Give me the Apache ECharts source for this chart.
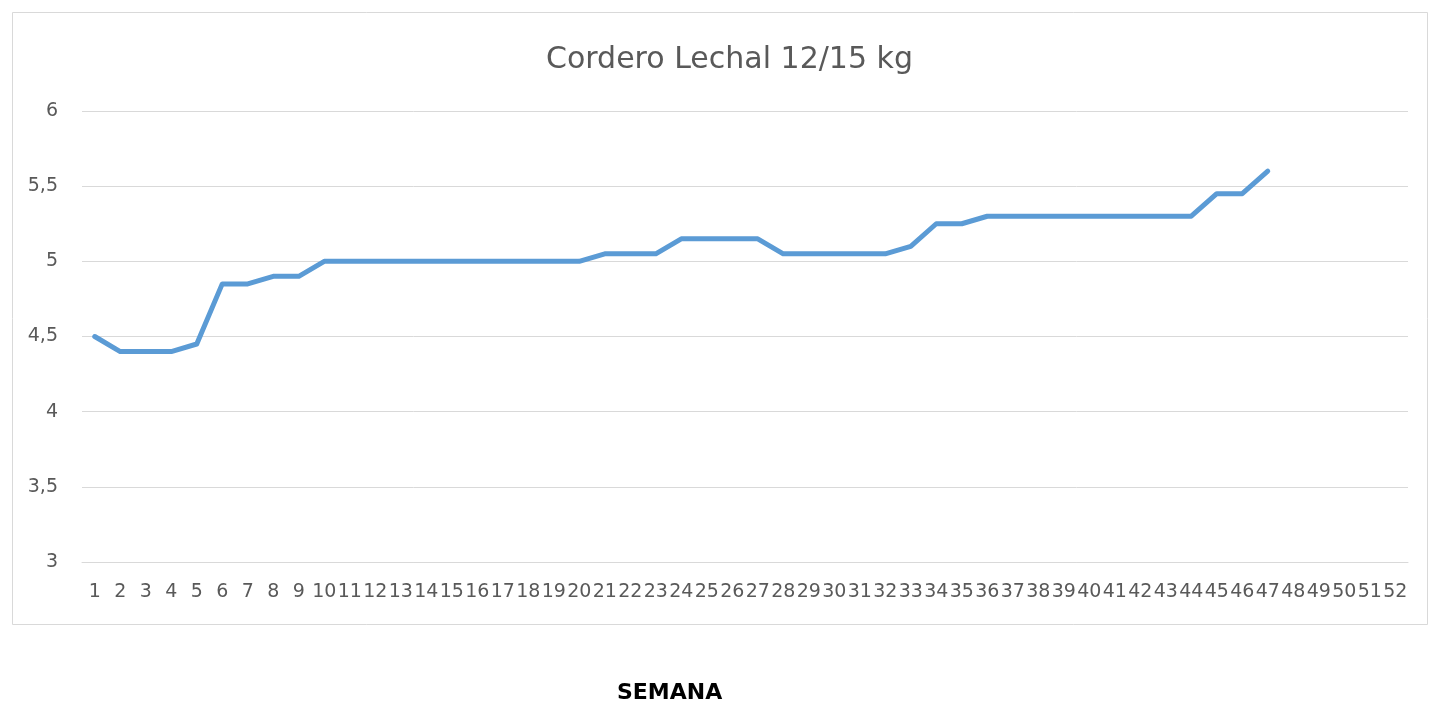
<!DOCTYPE html>
<html>
<head>
<meta charset="utf-8">
<script src="https://cdn.jsdelivr.net/npm/echarts@6/dist/echarts.min.js"></script>
<style>
html,body{margin:0;padding:0;background:#fff;}
#c{width:1436px;height:703px;}
</style>
</head>
<body>
<div id="c"></div>
<script>
const chartTitle = 'Cordero Lechal 12/15 kg';
const xAxisTitle = 'SEMANA';
const weeks = [];
for (let i = 1; i <= 52; i++) weeks.push(String(i));
const prices = [4.5, 4.4, 4.4, 4.4, 4.45, 4.85, 4.85, 4.9, 4.9, 5.0,
  5.0, 5.0, 5.0, 5.0, 5.0, 5.0, 5.0, 5.0, 5.0, 5.0,
  5.05, 5.05, 5.05, 5.15, 5.15, 5.15, 5.15, 5.05, 5.05, 5.05,
  5.05, 5.05, 5.1, 5.25, 5.25, 5.3, 5.3, 5.3, 5.3, 5.3,
  5.3, 5.3, 5.3, 5.3, 5.45, 5.45, 5.6];
const yMin = 3, yMax = 6, yStep = 0.5;

const chart = echarts.init(document.getElementById('c'));
chart.setOption({
  animation: false,
  backgroundColor: '#fff',
  title: {
    text: chartTitle,
    left: 541,
    top: 40,
    textStyle: {fontFamily: 'DejaVu Sans', fontSize: 30, fontWeight: 'normal', color: '#595959'}
  },
  graphic: [
    {type: 'rect', shape: {x: 12.5, y: 12.5, width: 1415, height: 612}, style: {fill: 'none', stroke: '#d9d9d9', lineWidth: 1}, z: -1},
    {type: 'text', left: 617, top: 682, style: {text: xAxisTitle, font: 'bold 22px "DejaVu Sans"', fill: '#000'}}
  ],
  grid: {left: 82, right: 28, top: 111, bottom: 141},
  xAxis: {
    type: 'category',
    data: weeks,
    boundaryGap: true,
    axisLine: {show: true, lineStyle: {color: '#d9d9d9', width: 1}},
    axisTick: {show: false},
    axisLabel: {interval: 0, margin: 21, color: '#595959', fontFamily: 'DejaVu Sans', fontSize: 19}
  },
  yAxis: {
    type: 'value',
    min: yMin, max: yMax, interval: yStep,
    axisLine: {show: false},
    axisTick: {show: false},
    splitLine: {lineStyle: {color: '#d9d9d9', width: 1}},
    axisLabel: {margin: 24, color: '#595959', fontFamily: 'DejaVu Sans', fontSize: 19,
      formatter: v => String(v).replace('.', ',')}
  },
  series: [{
    type: 'line',
    data: prices,
    showSymbol: false,
    symbol: 'none',
    lineStyle: {color: '#5b9bd5', width: 5, cap: 'round', join: 'round'}
  }]
});
</script>
</body>
</html>
